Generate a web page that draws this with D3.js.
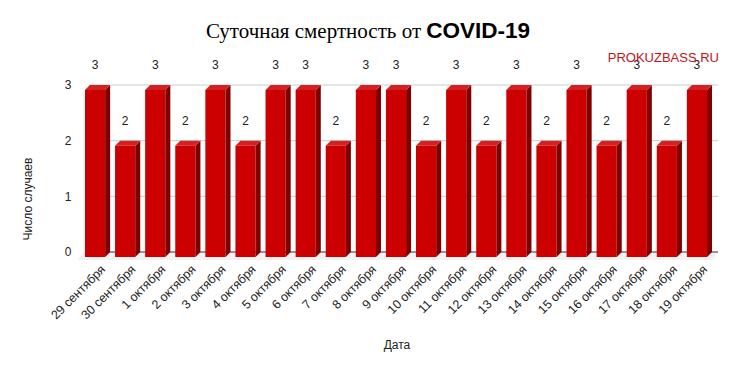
<!DOCTYPE html>
<html>
<head>
<meta charset="utf-8">
<script src="https://cdn.jsdelivr.net/npm/d3@7"></script>
<style>
  body { margin: 0; background: #fff; }
  svg { display: block; font-family: "Liberation Sans", Arial, sans-serif; }
</style>
</head>
<body>
<svg id="chart"></svg>
<script>
// data
var dates = ["29 сентября", "30 сентября", "1 октября", "2 октября", "3 октября", "4 октября",
  "5 октября", "6 октября", "7 октября", "8 октября", "9 октября", "10 октября", "11 октября",
  "12 октября", "13 октября", "14 октября", "15 октября", "16 октября", "17 октября",
  "18 октября", "19 октября"];
var deaths = [3, 2, 3, 2, 3, 2, 3, 3, 2, 3, 3, 2, 3, 2, 3, 2, 3, 2, 3, 2, 3];
var yTicks = [0, 1, 2, 3];

var W = 737, H = 371;
var depth = 5; // 3d offset

var svg = d3.select("#chart").attr("width", W).attr("height", H);

var x = d3.scaleBand()
    .domain(dates)
    .range([80, 712])
    .paddingInner(0.33)
    .paddingOuter(0.165);

var y = d3.scaleLinear()
    .domain([0, 3])
    .range([252, 85]);

// floor shadow
svg.append("polygon")
  .attr("points", [[x.range()[0] + 3, 252], [718, 252], [713, 260], [x.range()[0] - 2, 260]].join(" "))
  .style("fill", "#f2f2f2");

// gridlines
svg.append("g").selectAll("line")
  .data(yTicks)
  .enter().append("line")
    .attr("x1", 88)
    .attr("x2", 718)
    .attr("y1", function(d) { return y(d); })
    .attr("y2", function(d) { return y(d); })
    .style("stroke", function(d) { return d == 0 ? "#333" : "#ccc"; })
    .style("stroke-width", 1);

// y tick labels
svg.append("g").selectAll("text")
  .data(yTicks)
  .enter().append("text")
    .attr("x", 68)
    .attr("y", function(d) { return y(d); })
    .attr("dy", "0.35em")
    .style("text-anchor", "middle")
    .style("font-size", "12px")
    .style("fill", "#222")
    .text(function(d) { return d; });

// bars
var bars = svg.append("g").selectAll("g")
  .data(deaths)
  .enter().append("g");

var bw = x.bandwidth();

bars.append("rect")
  .attr("x", function(d, i) { return x(dates[i]); })
  .attr("y", function(d) { return y(d) + depth; })
  .attr("width", bw)
  .attr("height", function(d) { return y(0) - y(d); })
  .style("fill", "#cc0000");

bars.append("polygon")
  .attr("points", function(d, i) {
    var x0 = x(dates[i]) + bw, t = y(d) + depth, b = y(0) + depth;
    return [[x0, t], [x0 + depth, t - depth], [x0 + depth, b - depth], [x0, b]].join(" ");
  })
  .style("fill", "#800000");

bars.append("polygon")
  .attr("points", function(d, i) {
    var x0 = x(dates[i]), t = y(d) + depth;
    return [[x0, t], [x0 + depth, t - depth], [x0 + bw + depth, t - depth], [x0 + bw, t]].join(" ");
  })
  .style("fill", "#d42020");

// value labels
bars.append("text")
  .attr("x", function(d, i) { return x(dates[i]) + bw / 2; })
  .attr("y", function(d) { return y(d) - 20; })
  .attr("dy", "0.35em")
  .style("text-anchor", "middle")
  .style("font-size", "12px")
  .style("fill", "#222")
  .text(function(d) { return d; });

// x labels
svg.append("g").selectAll("text")
  .data(dates)
  .enter().append("text")
    .attr("transform", function(d) {
      return "translate(" + (x(d) + bw / 2 + 8) + ",267) rotate(-45)";
    })
    .attr("dy", "0.35em")
    .style("text-anchor", "end")
    .style("font-size", "12.5px")
    .style("fill", "#222")
    .text(function(d) { return d; });

// titles
var title = svg.append("text")
  .attr("x", 368)
  .attr("y", 38)
  .style("text-anchor", "middle")
  .style("fill", "#000");
title.append("tspan")
  .style("font-family", "'Liberation Serif', 'Times New Roman', serif")
  .style("font-size", "21px")
  .text("Суточная смертность от ");
title.append("tspan")
  .style("font-family", "'Liberation Sans', Arial, sans-serif")
  .style("font-weight", "bold")
  .style("font-size", "22.5px")
  .text("COVID-19");

svg.append("text")
  .attr("x", 719)
  .attr("y", 62)
  .style("text-anchor", "end")
  .style("font-size", "13px")
  .style("fill", "#c0141c")
  .text("PROKUZBASS.RU");

svg.append("text")
  .attr("transform", "translate(32,199) rotate(-90)")
  .style("text-anchor", "middle")
  .style("font-size", "12px")
  .style("fill", "#222")
  .text("Число случаев");

svg.append("text")
  .attr("x", 397)
  .attr("y", 349)
  .style("text-anchor", "middle")
  .style("font-size", "12px")
  .style("fill", "#222")
  .text("Дата");
</script>
</body>
</html>
